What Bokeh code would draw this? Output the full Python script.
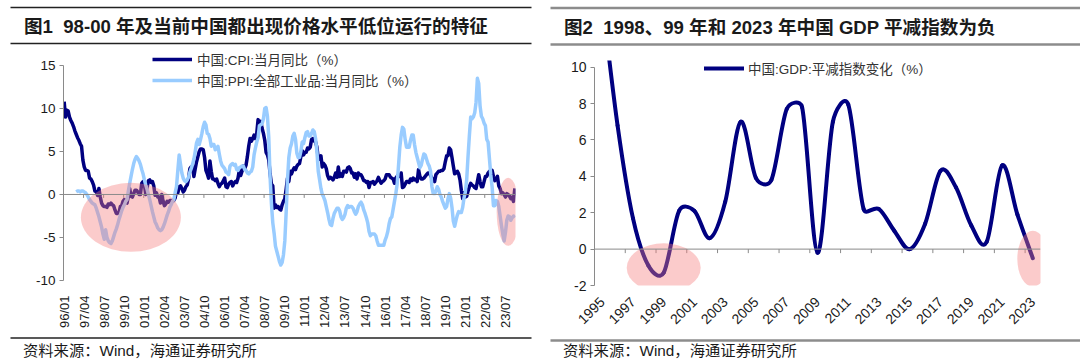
import math
from bokeh.plotting import figure
from bokeh.models import Range1d, FixedTicker, Legend, LegendItem, Span
from bokeh.layouts import row, column
from bokeh.embed import file_html
from bokeh.resources import INLINE
from bokeh.core.properties import value

# ---------------- data ----------------
# Left chart: monthly values, 1996/01 .. 2024/02
cpi = [
    10.8, 9.0, 9.8, 9.7, 9.0, 8.6, 8.3, 7.9, 7.4, 7.0, 6.6, 6.3,          # 1996
    5.9, 5.6, 4.0, 3.2, 2.8, 2.8, 2.7, 1.9, 1.8, 1.5, 1.1, 0.4,           # 1997
    0.3, -0.1, 0.7, -0.3, -1.0, -1.3, -1.4, -1.4, -1.5, -1.1, -1.2, -1.0,  # 1998
    -1.2, -1.3, -1.8, -2.2, -2.2, -2.1, -1.4, -1.3, -0.8, -0.6, -0.9, -1.0,  # 1999
    -0.2, 0.7, -0.2, -0.3, 0.1, 0.5, 0.5, 0.3, 0.0, 0.0, 1.3, 1.5,        # 2000
    1.2, 0.0, 0.8, 1.6, 1.7, 1.4, 1.5, 1.0, -0.1, 0.2, -0.3, -0.3,        # 2001
    -1.0, 0.0, -0.8, -1.3, -1.1, -0.8, -0.9, -0.7, -0.7, -0.8, -0.7, -0.4,  # 2002
    0.4, 0.2, 0.9, 1.0, 0.7, 0.3, 0.5, 0.9, 1.1, 1.8, 3.0, 3.2,           # 2003
    3.2, 2.1, 3.0, 3.8, 4.4, 5.0, 5.3, 5.3, 5.2, 4.3, 2.8, 2.4,           # 2004
    1.9, 3.9, 2.7, 1.8, 1.8, 1.6, 1.8, 1.3, 0.9, 1.2, 1.3, 1.6,           # 2005
    1.9, 0.9, 0.8, 1.2, 1.4, 1.5, 1.0, 1.3, 1.5, 1.4, 1.9, 2.8,           # 2006
    2.2, 2.7, 3.3, 3.0, 3.4, 4.4, 5.6, 6.5, 6.2, 6.5, 6.9, 6.5,           # 2007
    7.1, 8.7, 8.3, 8.5, 7.7, 7.1, 6.3, 4.9, 4.6, 4.0, 2.4, 1.2,           # 2008
    1.0, -1.6, -1.2, -1.5, -1.4, -1.7, -1.8, -1.2, -0.8, -0.5, 0.6, 1.9,  # 2009
    1.5, 2.7, 2.4, 2.8, 3.1, 2.9, 3.3, 3.5, 3.6, 4.4, 5.1, 4.6,           # 2010
    4.9, 4.9, 5.4, 5.3, 5.5, 6.4, 6.5, 6.2, 6.1, 5.5, 4.2, 4.1,           # 2011
    4.5, 3.2, 3.6, 3.4, 3.0, 2.2, 1.8, 2.0, 1.9, 1.7, 2.0, 2.5,           # 2012
    2.0, 3.2, 2.1, 2.4, 2.1, 2.7, 2.7, 2.6, 3.1, 3.2, 3.0, 2.5,           # 2013
    2.5, 2.0, 2.4, 1.8, 2.5, 2.3, 2.3, 2.0, 1.6, 1.6, 1.4, 1.5,           # 2014
    0.8, 1.4, 1.4, 1.5, 1.2, 1.4, 1.6, 2.0, 1.6, 1.3, 1.5, 1.6,           # 2015
    1.8, 2.3, 2.3, 2.3, 2.0, 1.9, 1.8, 1.3, 1.9, 2.1, 2.3, 2.1,           # 2016
    2.5, 0.8, 0.9, 1.2, 1.5, 1.5, 1.4, 1.8, 1.6, 1.9, 1.7, 1.8,           # 2017
    1.5, 2.9, 2.1, 1.8, 1.8, 1.9, 2.1, 2.3, 2.5, 2.5, 2.2, 1.9,           # 2018
    1.7, 1.5, 2.3, 2.5, 2.7, 2.7, 2.8, 2.8, 3.0, 3.8, 4.5, 4.5,           # 2019
    5.4, 5.2, 4.3, 3.3, 2.4, 2.5, 2.7, 2.4, 1.7, 0.5, -0.5, 0.2,          # 2020
    -0.3, -0.2, 0.4, 0.9, 1.3, 1.1, 1.0, 0.8, 0.7, 1.5, 2.3, 1.5,         # 2021
    0.9, 0.9, 1.5, 2.1, 2.1, 2.5, 2.7, 2.5, 2.8, 2.1, 1.6, 1.8,           # 2022
    2.1, 1.0, 0.7, 0.1, 0.2, 0.0, -0.3, 0.1, 0.0, -0.2, -0.5, -0.3,       # 2023
    -0.8, 0.7,                                                            # 2024
]
# PPI starts at 1996/10 (month index 9)
ppi_start_index = 9
ppi = [
    0.3, 0.4, 0.4,                                                        # 1996 Q4
    0.3, 0.4, 0.4, 0.3, 0.2, 0.0, -0.3, -0.6, -0.8, -1.0, -1.1, -1.2,     # 1997
    -1.6, -2.1, -2.6, -3.2, -3.8, -4.6, -5.2, -4.1, -5.0, -5.4, -5.6, -5.7,  # 1998
    -5.4, -4.9, -4.4, -4.0, -3.5, -2.9, -2.4, -1.9, -1.5, -1.2, -0.8, -0.6,  # 1999
    0.4, 1.3, 2.1, 2.9, 3.6, 4.1, 4.4, 4.2, 3.9, 3.5, 2.9, 2.4,           # 2000
    1.7, 1.1, 0.6, 0.0, -0.6, -1.3, -2.0, -2.6, -3.2, -3.5, -3.9, -4.1,   # 2001
    -4.2, -4.1, -3.8, -3.4, -2.9, -2.4, -2.0, -1.5, -1.2, -0.8, -0.6, 0.2,  # 2002
    0.9, 2.8, 4.6, 3.5, 2.5, 1.9, 1.6, 1.5, 1.7, 2.0, 2.6, 3.0,           # 2003
    3.5, 4.1, 5.0, 6.0, 6.4, 5.8, 6.4, 7.1, 7.9, 8.4, 8.1, 7.1,           # 2004
    7.0, 6.5, 5.6, 5.8, 5.8, 5.2, 5.4, 5.6, 4.7, 3.9, 3.4, 3.2,           # 2005
    3.0, 2.6, 2.5, 2.3, 3.3, 3.5, 3.6, 3.4, 3.5, 2.9, 2.8, 3.1,           # 2006
    3.2, 3.3, 3.3, 2.9, 2.8, 2.5, 2.4, 2.6, 2.7, 3.2, 4.6, 5.4,           # 2007
    6.1, 6.6, 8.0, 8.1, 8.2, 8.8, 10.0, 10.1, 9.1, 6.6, 2.0, -1.1,        # 2008
    -3.3, -4.5, -6.0, -6.6, -7.2, -7.8, -8.2, -7.9, -7.0, -5.4, -2.1, 1.7,  # 2009
    4.3, 5.4, 5.9, 6.8, 7.1, 6.4, 4.8, 4.3, 4.3, 5.0, 6.1, 5.9,           # 2010
    6.6, 7.2, 7.3, 6.8, 6.8, 7.1, 7.5, 7.3, 6.5, 5.0, 2.7, 1.7,           # 2011
    0.7, 0.0, -0.3, -0.7, -1.4, -2.1, -2.9, -3.5, -3.6, -2.8, -2.2, -1.9,  # 2012
    -1.6, -1.6, -1.9, -2.6, -2.9, -2.7, -2.3, -1.6, -1.3, -1.5, -1.4, -1.4,  # 2013
    -1.6, -2.0, -2.3, -2.0, -1.4, -1.1, -0.9, -1.2, -1.8, -2.2, -2.7, -3.3,  # 2014
    -4.3, -4.8, -4.6, -4.6, -4.6, -4.8, -5.4, -5.9, -5.9, -5.9, -5.9, -5.9,  # 2015
    -5.3, -4.9, -4.3, -3.4, -2.8, -2.6, -1.7, -0.8, 0.1, 1.2, 3.3, 5.5,    # 2016
    6.9, 7.8, 7.6, 6.4, 5.5, 5.5, 5.5, 6.3, 6.9, 6.9, 5.8, 4.9,           # 2017
    4.3, 3.7, 3.1, 3.4, 4.1, 4.7, 4.6, 4.1, 3.6, 3.3, 2.7, 0.9,           # 2018
    0.1, 0.1, 0.4, 0.9, 0.6, 0.0, -0.3, -0.8, -1.2, -1.6, -1.4, -0.5,     # 2019
    0.1, -0.4, -1.5, -3.1, -3.7, -3.0, -2.4, -2.0, -2.1, -2.1, -1.5, -0.4,  # 2020
    0.3, 1.7, 4.4, 6.8, 9.0, 8.8, 9.0, 9.5, 10.7, 13.5, 12.9, 10.3,       # 2021
    9.1, 8.8, 8.3, 8.0, 6.4, 6.1, 4.2, 2.3, 0.9, -1.3, -1.3, -0.7,        # 2022
    -0.8, -1.4, -2.5, -3.6, -4.6, -5.4, -4.4, -3.0, -2.5, -2.6, -3.0, -2.7,  # 2023
    -2.5, -2.7,                                                           # 2024
]
left_tick_labels = ["96/01", "97/04", "98/07", "99/10", "01/01", "02/04", "03/07",
                    "04/10", "06/01", "07/04", "08/07", "09/10", "11/01", "12/04",
                    "13/07", "14/10", "16/01", "17/04", "18/07", "19/10", "21/01",
                    "22/04", "23/07"]
left_label_step = 15  # months between labels
left_y_ticks = [-10, -5, 0, 5, 10, 15]
cpi_label = "中国:CPI:当月同比（%）"
ppi_label = "中国:PPI:全部工业品:当月同比（%）"

# Right chart: annual GDP deflator change
gdp_years = list(range(1995, 2024))
gdp_deflator = [13.7, 6.8, 1.7, -0.9, -1.3, 2.1, 2.1, 0.6, 2.6, 7.0,
                3.9, 3.8, 7.7, 7.8, -0.2, 7.0, 7.95, 2.2, 2.2, 1.0,
                0.0, 1.4, 4.3, 3.4, 1.3, 0.4, 4.6, 1.9, -0.5]
right_y_ticks = [-2, 0, 2, 4, 6, 8, 10]
gdp_label = "中国:GDP:平减指数变化（%）"

# highlight ellipses (centre in data units, size in px)
left_hl_x = [49.9, 332.0]
left_hl_y = [-2.66, -2.02]
left_hl_w = [100, 23]
left_hl_h = [69, 68]
right_hl_x = [1999.0, 2023.0]
right_hl_y = [-1.03, -0.53]
right_hl_w = [74, 31]
right_hl_h = [49, 56]

title_left = "图1\u00a0\u00a098-00 年及当前中国都出现价格水平低位运行的特征"
title_right = "图2\u00a0\u00a01998、99 年和 2023 年中国 GDP 平减指数为负"
source_text = "资料来源：Wind，海通证券研究所"

# ---------------- styling ----------------
FONT = "Liberation Sans, Noto Sans CJK SC"
TXT = "#1a1a1a"
NAVY = "#000080"
LIGHT = "#99CCFF"
AXIS = "#8a8a8a"
PINK = "#F47C7C"

W = 540
HEAD_H, CHART_H, FOOT_H = 50, 281, 32


def deco(height, text, tx, ty, size, bold, lines, lcolor, lwidth):
    # y measured from the top of this strip
    p = figure(width=W, height=height, x_range=Range1d(0, W), y_range=Range1d(0, height),
               x_axis_type=None, y_axis_type=None, toolbar_location=None,
               output_backend="svg", min_border=0, frame_align=False)
    p.outline_line_color = None
    for (x0, x1, y) in lines:
        p.segment(x0=[x0], y0=[height - y], x1=[x1], y1=[height - y],
                  line_color=lcolor, line_width=lwidth)
    p.text(x=[tx], y=[height - ty], text=[text], text_font=value(FONT), text_font_size=size,
           text_font_style="bold" if bold else "normal", text_baseline="middle",
           text_align="left", text_color=TXT)
    return p


def style_axes(p):
    p.grid.visible = False
    p.outline_line_color = None
    p.background_fill_color = "white"
    for ax in p.axis:
        ax.major_label_text_font = FONT
        ax.major_label_text_color = TXT
        ax.minor_tick_line_color = None


# ---------------- left chart ----------------
n_months = len(cpi)
cpi_x = list(range(n_months))
ppi_x = list(range(ppi_start_index, ppi_start_index + len(ppi)))

L_Y_MAX = 15 + 15.0 / 8.64     # room above "15" for the legend
pl = figure(width=W, height=CHART_H, x_range=Range1d(-0.5, n_months - 0.5),
            y_range=Range1d(left_y_ticks[0], L_Y_MAX),
            toolbar_location=None, output_backend="svg", frame_align=False,
            min_border_left=63, min_border_right=25, min_border_top=0, min_border_bottom=50)
style_axes(pl)
lt = [i * left_label_step for i in range(len(left_tick_labels))]
xa = pl.xaxis[0]
xa.ticker = FixedTicker(ticks=lt)
xa.major_label_overrides = {t: lab for t, lab in zip(lt, left_tick_labels)}
xa.axis_line_color = None
xa.major_tick_line_color = None
xa.major_tick_out = 0
xa.major_tick_in = 0
xa.major_label_orientation = math.pi / 2
xa.major_label_standoff = 15
xa.major_label_text_font_size = "13px"
ya = pl.yaxis[0]
ya.ticker = FixedTicker(ticks=left_y_ticks)
ya.major_label_overrides = {t: str(t) for t in left_y_ticks}
ya.bounds = (left_y_ticks[0], left_y_ticks[-1])
ya.axis_line_color = AXIS
ya.major_tick_line_color = AXIS
ya.major_tick_out = 4
ya.major_tick_in = 0
ya.major_label_standoff = 4
ya.major_label_text_font_size = "13.5px"

pl.add_layout(Span(location=0, dimension="width", line_color=AXIS, line_width=1))
bx = [t - 0.5 for t in lt[1:]]
pl.segment(x0=bx, y0=[0] * len(bx), x1=bx, y1=[-0.4] * len(bx), line_color=AXIS, line_width=1)

r_cpi = pl.line(cpi_x, cpi, line_color=NAVY, line_width=3.5, line_join="round")
r_ppi = pl.line(ppi_x, ppi, line_color=LIGHT, line_width=3.5, line_join="round")
pl.ellipse(x=left_hl_x, y=left_hl_y, width=left_hl_w, height=left_hl_h,
           width_units="screen", height_units="screen",
           fill_color=PINK, fill_alpha=0.4, line_color=None)

leg_l = Legend(items=[LegendItem(label=cpi_label, renderers=[r_cpi]),
                      LegendItem(label=ppi_label, renderers=[r_ppi])],
               location=(89, 190), orientation="vertical", padding=0, margin=0, spacing=1,
               glyph_width=40, glyph_height=18, label_height=18, label_standoff=5,
               label_text_font=FONT, label_text_font_size="13.5px", label_text_color="#333333",
               background_fill_alpha=0, border_line_color=None)
pl.add_layout(leg_l)

# ---------------- right chart ----------------
R_TOP = 10
R_Y_MAX = 10 + 6.7 / 18.18     # room above "10" for the legend
pr = figure(width=W, height=CHART_H, x_range=Range1d(gdp_years[0] - 0.5, gdp_years[-1] + 0.5),
            y_range=Range1d(right_y_ticks[0], R_Y_MAX),
            toolbar_location=None, output_backend="svg", frame_align=False,
            min_border_left=54, min_border_right=40, min_border_top=R_TOP, min_border_bottom=46)
style_axes(pr)
rt = gdp_years[::2]
xr = pr.xaxis[0]
xr.ticker = FixedTicker(ticks=rt)
xr.major_label_overrides = {t: str(t) for t in rt}
xr.axis_line_color = None
xr.major_tick_line_color = None
xr.major_tick_out = 0
xr.major_tick_in = 0
xr.major_label_orientation = math.pi / 4
xr.major_label_standoff = 14
xr.major_label_text_font_size = "14px"
yr = pr.yaxis[0]
yr.ticker = FixedTicker(ticks=right_y_ticks)
yr.major_label_overrides = {t: str(t) for t in right_y_ticks}
yr.bounds = (right_y_ticks[0], right_y_ticks[-1])
yr.axis_line_color = AXIS
yr.major_tick_line_color = AXIS
yr.major_tick_out = 4
yr.major_tick_in = 0
yr.major_label_standoff = 4
yr.major_label_text_font_size = "14px"

pr.add_layout(Span(location=0, dimension="width", line_color=AXIS, line_width=1))
rbx = [t + 1.5 for t in rt[:-1]]
pr.segment(x0=rbx, y0=[0] * len(rbx), x1=rbx, y1=[-0.22] * len(rbx), line_color=AXIS, line_width=1)

# Excel-like smoothed line: bezier through the data points, tangents limited
# to half of the adjacent segment length (computed in screen proportions)
FRAME_W, FRAME_H = 446.0, 225.0
sx = FRAME_W / len(gdp_years)
sy = FRAME_H / (R_Y_MAX - right_y_ticks[0])
pts = [(x * sx, y * sy) for x, y in zip(gdp_years, gdp_deflator)]
n = len(pts)


def ctrl(i):
    px, py = pts[i]
    ax_, ay_ = pts[max(i - 1, 0)]
    bx_, by_ = pts[min(i + 1, n - 1)]
    tx, ty = bx_ - ax_, by_ - ay_
    tl = math.hypot(tx, ty)
    if tl == 0:
        return (px, py), (px, py)
    ux, uy = tx / tl, ty / tl
    d_in = math.hypot(px - ax_, py - ay_)
    d_out = math.hypot(bx_ - px, by_ - py)
    l_in = min(tl / 6.0, d_in / 2.0)
    l_out = min(tl / 6.0, d_out / 2.0)
    return (px - ux * l_in, py - uy * l_in), (px + ux * l_out, py + uy * l_out)


cps = [ctrl(i) for i in range(n)]
bx0, by0, bx1, by1, cx0, cy0, cx1, cy1 = [], [], [], [], [], [], [], []
for i in range(n - 1):
    bx0.append(gdp_years[i]); by0.append(gdp_deflator[i])
    bx1.append(gdp_years[i + 1]); by1.append(gdp_deflator[i + 1])
    co = cps[i][1]
    ci = cps[i + 1][0]
    cx0.append(co[0] / sx); cy0.append(co[1] / sy)
    cx1.append(ci[0] / sx); cy1.append(ci[1] / sy)
r_gdp = pr.bezier(x0=bx0, y0=by0, x1=bx1, y1=by1, cx0=cx0, cy0=cy0, cx1=cx1, cy1=cy1,
                  line_color=NAVY, line_width=4, line_cap="round")
pr.ellipse(x=right_hl_x, y=right_hl_y, width=right_hl_w, height=right_hl_h,
           width_units="screen", height_units="screen",
           fill_color=PINK, fill_alpha=0.4, line_color=None)

leg_r = Legend(items=[LegendItem(label=gdp_label, renderers=[r_gdp])],
               location=(110, 207), orientation="vertical", padding=0, margin=0, spacing=1,
               glyph_width=40, glyph_height=18, label_height=18, label_standoff=4,
               label_text_font=FONT, label_text_font_size="13.5px", label_text_color="#333333",
               background_fill_alpha=0, border_line_color=None)
pr.add_layout(leg_r)

# ---------------- headers / footers ----------------
hl = deco(HEAD_H, title_left, 23.5, 26, "18.6px", True, [(10, 531, 7), (10, 531, 43)], "#222222", 1.5)
hr = deco(HEAD_H, title_right, 23.5, 26.5, "18.6px", True, [(10, W, 7.5), (10, W, 44)], "#8c8c8c", 2.5)
fl = deco(FOOT_H, source_text, 22.5, 18.5, "15.3px", False, [(10, 531, 6.5)], "#222222", 1.5)
fr = deco(FOOT_H, source_text, 22.5, 18.5, "15.3px", False, [(10, W, 9)], "#8c8c8c", 2.5)

layout = row(column(hl, pl, fl), column(hr, pr, fr))
open("out.html", "w").write(file_html(layout, INLINE))
